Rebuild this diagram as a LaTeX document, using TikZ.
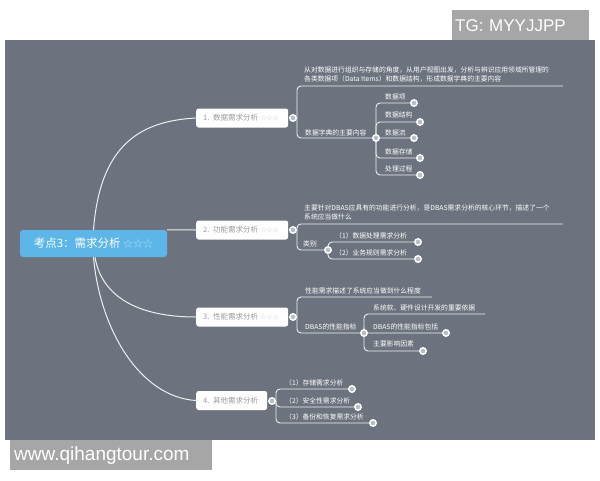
\documentclass[tikz,border=0pt]{standalone}
\usepackage{fontspec}
\setmainfont{Noto Sans CJK SC}
\newfontfamily\wmfont{Liberation Sans}
\usetikzlibrary{calc}
\definecolor{bgdark}{HTML}{6D737E}
\definecolor{mainblue}{HTML}{5DB6E8}
\definecolor{starblue}{HTML}{B4DDF5}
\definecolor{wmgray}{HTML}{A6A6A6}
\definecolor{linec}{HTML}{EEEEEE}
\definecolor{btext}{HTML}{9A9A9A}
\definecolor{starg}{HTML}{D2D2D2}
\definecolor{dotfill}{HTML}{B9BDC4}
\pgfdeclarelayer{back}
\pgfdeclarelayer{lines}
\pgfsetlayers{back,lines,main}
\newcommand\bstars{{\fontsize{6}{6}\selectfont\color{starg}☆☆☆}}
\tikzset{
 conn/.style={draw=linec, line width=0.9pt, rounded corners=4pt},
 trunk/.style={draw=linec, line width=1pt},
 mainbox/.style={fill=mainblue, rounded corners=3pt, minimum width=147pt, minimum height=27pt, text=white, font=\fontsize{11.5}{13}\selectfont, inner sep=0pt},
 branchbox/.style={fill=white, rounded corners=2.5pt, minimum height=19pt, anchor=west, text=btext, font=\fontsize{7.5}{9}\selectfont, inner xsep=7pt, inner ysep=0pt, align=left},
 lbl/.style={anchor=west, inner sep=0pt, text=white, font=\fontsize{6.8}{9}\selectfont, align=left},
 jdot/.style={circle, fill=dotfill, draw=white, line width=1.4pt, minimum size=6.5pt, inner sep=0pt},
 wmbox/.style={fill=wmgray, text=white, inner ysep=0pt, anchor=north west, align=left}
}
\begin{document}
\begin{tikzpicture}[x=1pt,y=-1pt]
\path[use as bounding box] (0,0) rectangle (600,480);
\begin{pgfonlayer}{back}
\fill[white] (0,0) rectangle (600,480);
\fill[bgdark] (5,40) rectangle (595,440);
\end{pgfonlayer}

% watermarks
\node[wmbox, minimum width=137pt, minimum height=30pt, text width=131pt, inner xsep=3pt, font=\wmfont\fontsize{17}{17}\selectfont] (tg) at (452,10) {TG: MYYJJPP};
\node[wmbox, minimum width=202pt, minimum height=30pt, text width=194pt, inner xsep=4pt, font=\wmfont\fontsize{19}{19}\selectfont] (www) at (10,440) {www.qihangtour.com};

% root
\node[mainbox] (root) at (93.5,243.5) {考点3：需求分析 {\fontsize{10}{10}\selectfont\color{starblue}☆☆☆}};

% branch boxes
\node[branchbox, text width=78pt] (b1) at (196,118) {1. 数据需求分析 \bstars};
\node[branchbox, text width=78pt] (b2) at (196,230) {2. 功能需求分析 \bstars};
\node[branchbox, text width=78pt] (b3) at (196,317) {3. 性能需求分析 \bstars};
\node[branchbox, text width=57pt] (b4) at (196,400.5) {4. 其他需求分析};

\begin{pgfonlayer}{lines}
\draw[trunk] (root.north) .. controls (100,145) and (140,121) .. (b1.west);
\draw[trunk] (root.north east) -- (b2.west);
\draw[trunk] ($(root.south)+(1.5,0)$) .. controls (102,298) and (140,317) .. (b3.west);
\draw[trunk] (root.south) .. controls (100,330) and (140,397) .. (b4.west);
\end{pgfonlayer}

% ---------- branch 1
\node[jdot] (d1) at (293,118) {};
\node[lbl] (t11) at (304,74.5) {从对数据进行组织与存储的角度，从用户视图出发，分析与辨识应用领域所管理的\\各类数据项（Data Items）和数据结构，形成数据字典的主要内容};
\coordinate (e11) at (563,86);
\node[lbl] (t12) at (305,132.5) {数据字典的主要内容};
\node[jdot] (d12) at (376,138) {};
\node[lbl] (t121) at (385,97) {数据项};
\node[jdot] (d121) at (414,103) {};
\node[lbl] (t122) at (385,115) {数据结构};
\node[jdot] (d122) at (420,122) {};
\node[lbl] (t123) at (385,132.5) {数据流};
\node[jdot] (d123) at (414,138) {};
\node[lbl] (t124) at (385,151.5) {数据存储};
\node[jdot] (d124) at (420,158) {};
\node[lbl] (t125) at (385,168.5) {处理过程};
\node[jdot] (d125) at (420,175) {};
\begin{pgfonlayer}{lines}
\draw[conn] (d1.east) |- (e11);
\draw[conn] (d1.east) |- (d12);
\foreach \c in {d121,d122,d123,d124,d125} \draw[conn] (d12.center) |- (\c);
\end{pgfonlayer}

% ---------- branch 2
\node[jdot] (d2) at (293,230) {};
\node[lbl] (t21) at (304,212) {主要针对DBAS应具有的功能进行分析，是DBAS需求分析的核心环节，描述了一个\\系统应当做什么};
\coordinate (e21) at (563,224);
\node[lbl] (t22) at (303,244) {类别};
\node[jdot] (d22) at (328,250) {};
\node[lbl] (t221) at (335,236) {（1）数据处理需求分析};
\node[jdot] (d221) at (418,242) {};
\node[lbl] (t222) at (335,252.5) {（2）业务规则需求分析};
\node[jdot] (d222) at (418,259) {};
\begin{pgfonlayer}{lines}
\draw[conn] (d2.east) |- (e21);
\draw[conn] (d2.east) |- (d22);
\draw[conn] (d22.center) |- (d221);
\draw[conn] (d22.center) |- (d222);
\end{pgfonlayer}

% ---------- branch 3
\node[jdot] (d3) at (293,317) {};
\node[lbl] (t31) at (305,291) {性能需求描述了系统应当做到什么程度};
\coordinate (e31) at (432,297);
\node[lbl] (t32) at (305,327) {DBAS的性能指标};
\node[jdot] (d32) at (364,333) {};
\node[lbl] (t321) at (373,307.5) {系统软、硬件设计开发的重要依据};
\coordinate (e321) at (485,314);
\node[lbl] (t322) at (373,327) {DBAS的性能指标包括};
\node[jdot] (d322) at (446,333) {};
\node[lbl] (t323) at (373,344) {主要影响因素};
\node[jdot] (d323) at (423,351) {};
\begin{pgfonlayer}{lines}
\draw[conn] (d3.east) |- (e31);
\draw[conn] (d3.east) |- (d32);
\draw[conn] (d32.center) |- (e321);
\draw[conn] (d32.center) |- (d322);
\draw[conn] (d32.center) |- (d323);
\end{pgfonlayer}

% ---------- branch 4
\node[jdot] (d4) at (272,401) {};
\node[lbl] (t41) at (285,383) {（1）存储需求分析};
\node[jdot] (d41) at (352,389) {};
\node[lbl] (t42) at (285,401) {（2）安全性需求分析};
\node[jdot] (d42) at (358,407) {};
\node[lbl] (t43) at (285,417) {（3）备份和恢复需求分析};
\node[jdot] (d43) at (373,423) {};
\begin{pgfonlayer}{lines}
\draw[conn] (d4.east) |- (d41);
\draw[conn] (d4.east) |- (d42);
\draw[conn] (d4.east) |- (d43);
\end{pgfonlayer}
\end{tikzpicture}
\end{document}
